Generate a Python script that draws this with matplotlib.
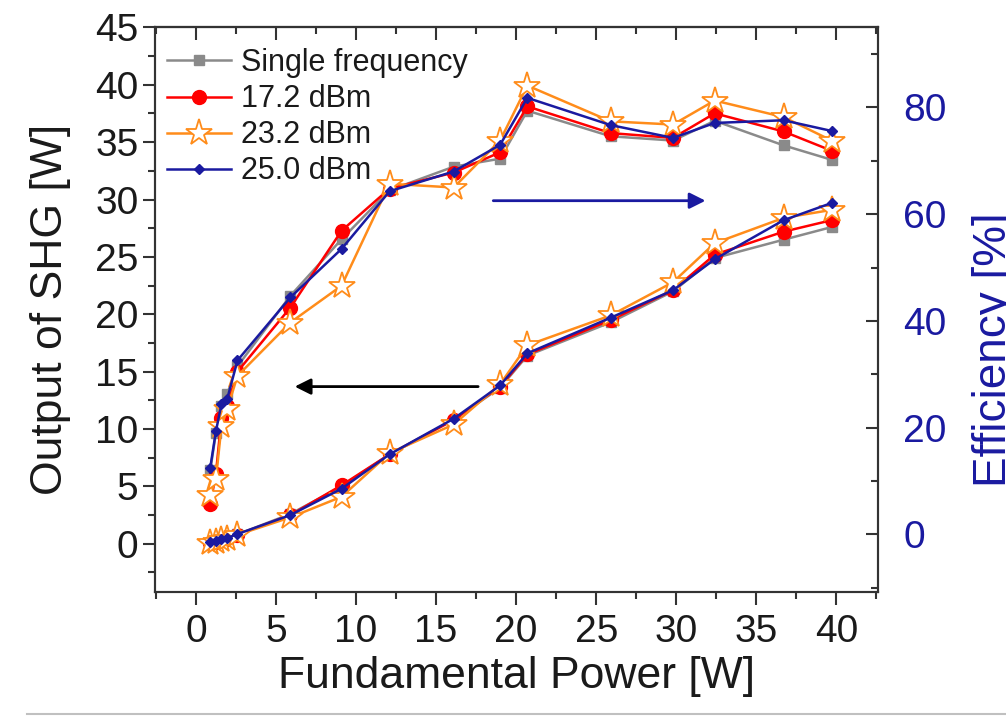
import matplotlib
matplotlib.use('Agg')
import matplotlib.pyplot as plt
from matplotlib.ticker import MultipleLocator
from matplotlib.lines import Line2D

plt.rcParams['font.family'] = ['Liberation Sans', 'DejaVu Sans']

# fundamental power [W]
power = [0.9, 1.25, 1.6, 1.95, 2.6, 5.9, 9.1, 12.1, 16.1, 19.0, 20.7, 25.9, 29.8, 32.4, 36.7, 39.7]

# SHG output [W]
out_single = [0.10, 0.23, 0.38, 0.50, 0.82, 2.6, 5.0, 7.8, 10.8, 13.6, 16.4, 19.3, 22.0, 24.9, 26.5, 27.6]
out_172 = [0.05, 0.14, 0.34, 0.45, 0.80, 2.5, 5.1, 7.8, 10.8, 13.7, 16.5, 19.5, 22.1, 25.2, 27.2, 28.2]
out_232 = [0.07, 0.13, 0.32, 0.45, 0.78, 2.3, 4.1, 7.9, 10.4, 13.9, 17.3, 19.9, 22.8, 26.2, 28.4, 29.1]
out_250 = [0.12, 0.25, 0.38, 0.50, 0.85, 2.5, 4.8, 7.8, 10.9, 13.8, 16.6, 19.7, 22.1, 24.8, 28.2, 29.7]

# conversion efficiency [%]
eff_single = [12.0, 19.0, 24.0, 26.3, 31.5, 44.7, 55.3, 64.5, 68.9, 70.4, 79.4, 74.6, 73.8, 77.5, 72.9, 70.2]
eff_172 = [5.6, 11.3, 21.8, 24.0, 30.5, 42.5, 56.9, 64.8, 67.8, 71.6, 80.2, 75.2, 74.3, 78.9, 75.5, 71.9]
eff_232 = [7.4, 10.3, 20.3, 23.4, 29.7, 39.7, 46.6, 65.7, 65.0, 73.8, 84.1, 77.4, 76.8, 81.3, 78.2, 73.8]
eff_250 = [12.5, 19.3, 24.4, 25.3, 32.6, 44.4, 53.5, 64.3, 68.0, 73.0, 81.8, 76.7, 74.3, 77.1, 77.6, 75.6]

labels = ['Single frequency', '17.2 dBm', '23.2 dBm', '25.0 dBm']

gray = '#8a8a8a'
red = '#ff0000'
orange = '#ff8c1a'
blue = '#1a1aa0'
txt = '#1a1a1a'

fig = plt.figure(figsize=(10.06, 7.18), dpi=100)
ax = fig.add_axes([0.1541, 0.1755, 0.7187, 0.7863])
ax2 = ax.twinx()

styles = [
    dict(color=gray, marker='s', ms=7, mfc=gray, mec=gray),
    dict(color=red, marker='o', ms=10, mfc=red, mec=red),
    dict(color=orange, marker='*', ms=20, mfc='white', mec=orange, mew=1.3),
    dict(color=blue, marker='D', ms=5, mfc=blue, mec=blue),
]
outs = [out_single, out_172, out_232, out_250]
effs = [eff_single, eff_172, eff_232, eff_250]

handles = []
for i in range(4):
    h, = ax.plot(power, outs[i], lw=1.8, zorder=3 + i, label=labels[i], **styles[i])
    ax2.plot(power, effs[i], lw=1.8, zorder=3 + i, **styles[i])
    handles.append(h)

ax.set_xlim(-2.55, 42.6)
ax.set_ylim(-4.2, 45)
ax2.set_ylim(-10.8, 95)

ax.xaxis.set_major_locator(MultipleLocator(5))
ax.xaxis.set_minor_locator(MultipleLocator(2.5))
ax.set_yticks(range(0, 46, 5))
ax.yaxis.set_minor_locator(MultipleLocator(2.5))
ax2.set_yticks(range(0, 81, 20))
ax2.yaxis.set_minor_locator(MultipleLocator(10))

ax.tick_params(which='both', direction='out', width=1.5, colors='#333333', labelcolor=txt, labelsize=28)
ax.tick_params(which='major', length=9)
ax.tick_params(which='minor', length=5)
ax.tick_params(axis='x', pad=7)
ax.tick_params(axis='y', pad=3)
ax2.tick_params(which='both', direction='in', width=1.5, colors='#333333', labelcolor=blue, labelsize=28, pad=18)
ax2.tick_params(which='major', length=9)
ax2.tick_params(which='minor', length=5)

top = ax.secondary_xaxis('top')
top.xaxis.set_major_locator(MultipleLocator(5))
top.xaxis.set_minor_locator(MultipleLocator(2.5))
top.tick_params(which='both', direction='in', width=1.5, colors='#333333', labeltop=False)
top.tick_params(which='major', length=9)
top.tick_params(which='minor', length=5)

for a in (ax, ax2):
    for s in a.spines.values():
        s.set_linewidth(1.5)
        s.set_color('#333333')
top.spines['top'].set_linewidth(1.5)

ax.set_xlabel('Fundamental Power [W]', fontsize=32, color=txt, labelpad=4)
ax.set_ylabel('Output of SHG [W]', fontsize=32, color=txt, labelpad=17)
ax2.set_ylabel('Efficiency [%]', fontsize=33, color=blue)
ax2.yaxis.set_label_coords(1.13, 0.43)

ax2.annotate('', xy=(32.0, 29.9), xytext=(18.4, 29.9), xycoords=ax.transData,
             arrowprops=dict(arrowstyle='-|>', color=blue, lw=2, mutation_scale=24))
ax2.annotate('', xy=(6.0, 13.7), xytext=(17.8, 13.7), xycoords=ax.transData,
             arrowprops=dict(arrowstyle='-|>', color='black', lw=2, mutation_scale=24))

leg = ax2.legend(handles, labels, loc='upper left', bbox_to_anchor=(0.0, 0.985), frameon=False,
                 fontsize=22, handlelength=2.1, handletextpad=0.3, labelspacing=0.2,
                 borderaxespad=0.2, borderpad=0.2)
for t in leg.get_texts():
    t.set_color(txt)

fig.add_artist(Line2D([0.027, 1.0], [0.005, 0.005], transform=fig.transFigure, color='#c0c0c0', lw=1.5))

fig.savefig('out.png', dpi=100)
